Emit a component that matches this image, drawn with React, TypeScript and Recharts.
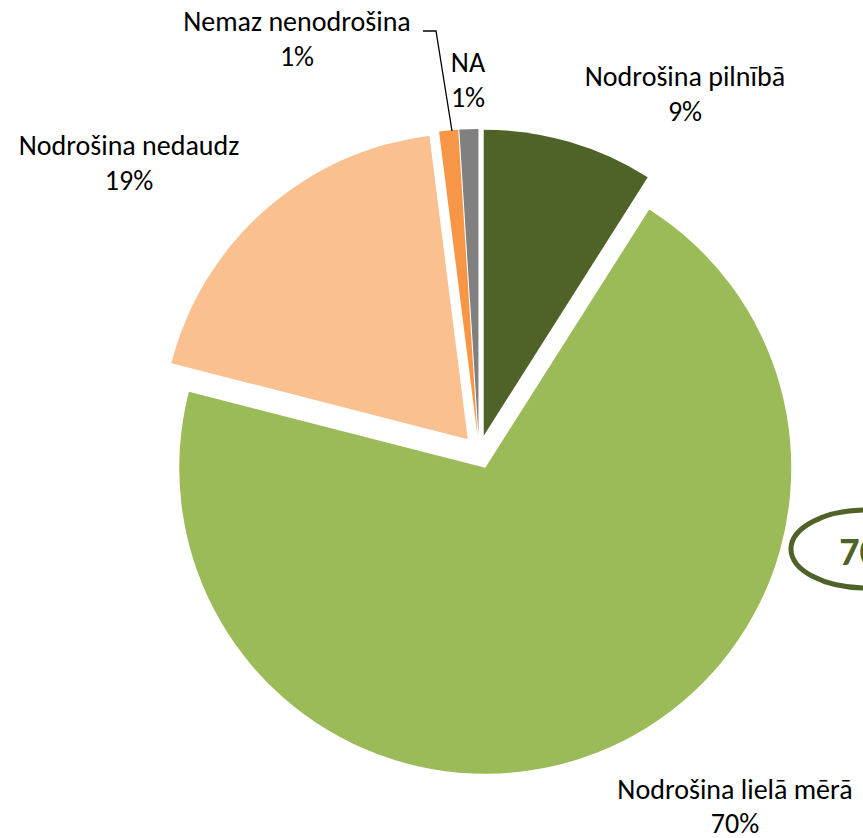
import React from 'react';
import { PieChart, Pie, Cell } from 'recharts';

const categories = ['Nodrošina pilnībā', 'Nodrošina lielā mērā', 'Nodrošina nedaudz', 'Nemaz nenodrošina', 'NA'];
const values = [9, 70, 19, 1, 1];
const percentLabels = ['9%', '70%', '19%', '1%', '1%'];
const colors = ['#4F6228', '#9BBB59', '#FAC090', '#F79646', '#808080'];

const data = categories.map((name, i) => ({ name, value: values[i] }));

const W = 863;
const H = 838;
const CX = 479;
const CY = 452;
const R = 306;
const EXPLODE = 17;

// label layout (text centre positions)
const labelPos = [
  { x: 685, y1: 86, y2: 121 },
  { x: 735, y1: 799, y2: 833 },
  { x: 129, y1: 155, y2: 190 },
  { x: 297, y1: 31, y2: 66 },
  { x: 468, y1: 72, y2: 107 },
];

const FONT = 'Carlito, Lato, "Open Sans", sans-serif';

export default function App() {
  const total = values.reduce((a, b) => a + b, 0);
  let acc = 0;
  const mids = values.map((v) => {
    const m = ((acc + v / 2) / total) * 360;
    acc += v;
    return m;
  });

  return (
    <div style={{ position: 'absolute', left: 0, top: 0, width: W, height: H, background: '#fff' }}>
      <PieChart width={W} height={H} margin={{ top: 0, right: 0, bottom: 0, left: 0 }}>
        {values.map((_, si) => {
          const a = (mids[si] * Math.PI) / 180;
          const cx = CX + EXPLODE * Math.sin(a);
          const cy = CY - EXPLODE * Math.cos(a);
          return (
            <Pie
              key={si}
              data={data}
              dataKey="value"
              nameKey="name"
              cx={cx}
              cy={cy}
              innerRadius={0}
              outerRadius={R}
              startAngle={90}
              endAngle={-270}
              stroke="none"
              isAnimationActive={false}
              legendType="none"
            >
              {data.map((d, i) => (
                <Cell key={i} fill={i === si ? colors[i] : 'transparent'} stroke="none" />
              ))}
            </Pie>
          );
        })}
      </PieChart>
      <svg width={W} height={H} style={{ position: 'absolute', left: 0, top: 0, pointerEvents: 'none' }}>
        <polyline points="423,31 436,31 452,131" fill="none" stroke="#000" strokeWidth={1.3} />
        {categories.map((c, i) => (
          <g key={i} fontFamily={FONT} fontSize={28} fill="#000" textAnchor="middle">
            <text x={labelPos[i].x} y={labelPos[i].y1}>{i === 4 ? 'NA' : c}</text>
            <text x={labelPos[i].x} y={labelPos[i].y2}>{percentLabels[i]}</text>
          </g>
        ))}
        <ellipse cx={866} cy={549} rx={75} ry={39} fill="#fff" stroke="#4F6228" strokeWidth={5} />
        <text x={874} y={565} fontFamily={FONT} fontSize={40} fontWeight="bold" fill="#4F6228" textAnchor="middle">
          {percentLabels[1]}
        </text>
      </svg>
    </div>
  );
}
